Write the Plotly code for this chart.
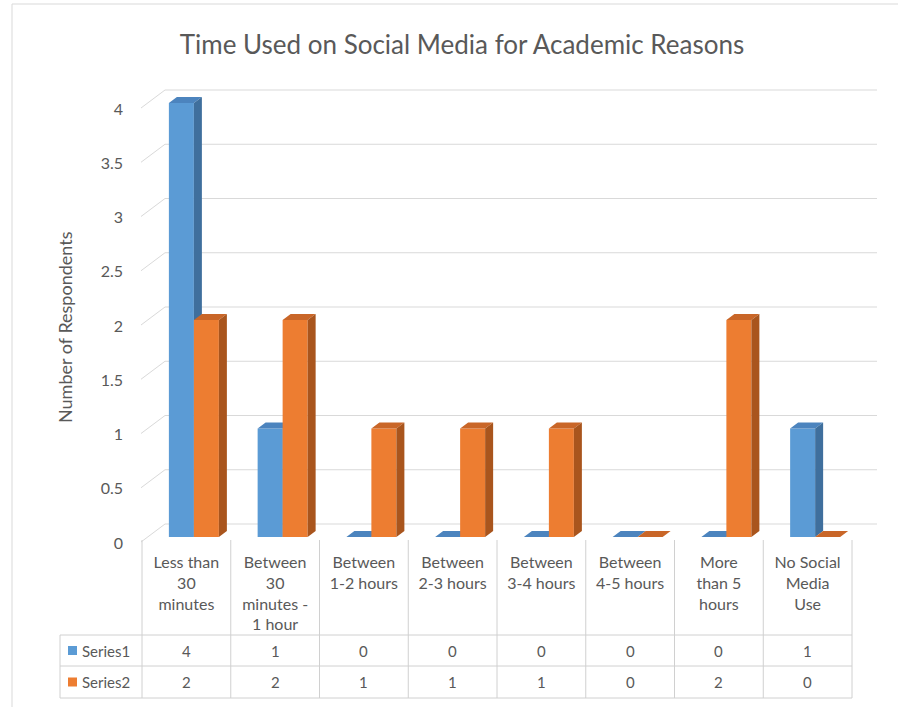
import plotly.graph_objects as go

# ---- data -------------------------------------------------------------
CATEGORIES = [
    "Less than 30 minutes",
    "Between 30 minutes - 1 hour",
    "Between 1-2 hours",
    "Between 2-3 hours",
    "Between 3-4 hours",
    "Between 4-5 hours",
    "More than 5 hours",
    "No Social Media Use",
]
TICK_LABELS = [
    "Less than<br>30<br>minutes",
    "Between<br>30<br>minutes -<br>1 hour",
    "Between<br>1-2 hours",
    "Between<br>2-3 hours",
    "Between<br>3-4 hours",
    "Between<br>4-5 hours",
    "More<br>than 5<br>hours",
    "No Social<br>Media<br>Use",
]
SERIES_NAMES = ["Series1", "Series2"]
SERIES1 = [4, 1, 0, 0, 0, 0, 0, 1]
SERIES2 = [2, 2, 1, 1, 1, 0, 2, 0]
Y_TICKS = [0, 0.5, 1, 1.5, 2, 2.5, 3, 3.5, 4]
Y_TICK_TEXT = ["0", "0.5", "1", "1.5", "2", "2.5", "3", "3.5", "4"]

# ---- layout geometry (pixels) ------------------------------------------
W, H = 898, 707
FONT = "Lato"
TEXT = "#595959"
GRID = "#d9d9d9"
TABLE_LINE = "#d0d0d0"

COL0, COL_W = 142, 88.75          # data-table columns
Y0_PX, PX_PER_UNIT = 537, 108.5   # front plane of the columns
PLOT_L, PLOT_R, PLOT_T, PLOT_B = 40, 890, 60, 705

BAR_W_PX, SHIFT_PX = 25, 7.5
DEPTH_X_PX, DEPTH_Y_PX = 8, 6


def xd(px):
    return (px - (COL0 + COL_W / 2)) / COL_W


def yd(py):
    return (Y0_PX - py) / PX_PER_UNIT


def px_x(px):
    return px / W


def px_y(py):
    return 1 - py / H


BAR_W = BAR_W_PX / COL_W
SHIFT = SHIFT_PX / COL_W
DX = DEPTH_X_PX / COL_W
DY = DEPTH_Y_PX / PX_PER_UNIT

FRONT = ["#5B9BD5", "#ED7D31"]
SIDE = ["#3F6F9D", "#A9551D"]
TOP = ["#4C84BE", "#C96628"]

positions = list(range(len(CATEGORIES)))
series = [SERIES1, SERIES2]
offsets = [SHIFT - BAR_W, SHIFT]

fig = go.Figure()

for k, (name, vals) in enumerate(zip(SERIES_NAMES, series)):
    fig.add_trace(go.Bar(
        x=positions, y=vals, name=name, width=BAR_W, offset=offsets[k],
        marker=dict(color=FRONT[k], line=dict(width=0)),
        zorder=2 * k, showlegend=False, hoverinfo="skip",
    ))
    # 3D top and side faces of each column
    for faces, color in (("top", TOP[k]), ("side", SIDE[k])):
        xs, ys = [], []
        for i, v in zip(positions, vals):
            x0 = i + offsets[k]
            x1 = x0 + BAR_W
            if faces == "top":
                xs += [x0, x0 + DX, x1 + DX, x1, x0, None]
                ys += [v, v + DY, v + DY, v, v, None]
            else:
                xs += [x1, x1, x1 + DX, x1 + DX, x1, None]
                ys += [0, v, v + DY, DY, 0, None]
        fig.add_trace(go.Scatter(
            x=xs, y=ys, mode="lines", fill="toself", fillcolor=color,
            line=dict(width=0, color=color), zorder=2 * k + 1,
            showlegend=False, hoverinfo="skip",
        ))

shapes = []

# back-wall gridlines with the slanted side-wall segment
for v in Y_TICKS:
    yf = Y0_PX - v * PX_PER_UNIT
    path = "M {},{} L {},{} L {},{}".format(
        xd(141), yd(yf + 5), xd(165), yd(yf - 13), xd(877), yd(yf - 13))
    shapes.append(dict(type="path", path=path, xref="x", yref="y",
                       line=dict(color=GRID, width=1), layer="below"))

# data table grid
n = len(CATEGORIES)
right_px = COL0 + n * COL_W
for k in range(n + 1):
    xpx = COL0 + k * COL_W
    shapes.append(dict(type="line", xref="paper", yref="paper",
                       x0=px_x(xpx), x1=px_x(xpx), y0=px_y(540), y1=px_y(698),
                       line=dict(color=TABLE_LINE, width=1)))
shapes.append(dict(type="line", xref="paper", yref="paper",
                   x0=px_x(60), x1=px_x(60), y0=px_y(635), y1=px_y(698),
                   line=dict(color=TABLE_LINE, width=1)))
for ypx in (635, 666, 698):
    shapes.append(dict(type="line", xref="paper", yref="paper",
                       x0=px_x(60), x1=px_x(right_px), y0=px_y(ypx), y1=px_y(ypx),
                       line=dict(color=TABLE_LINE, width=1)))

# chart border
shapes.append(dict(type="path", xref="paper", yref="paper",
                   path="M {},{} L {},{} L {},{}".format(
                       px_x(12), px_y(707), px_x(12), px_y(4), px_x(898), px_y(4)),
                   line=dict(color="#d9d9d9", width=1)))

annotations = []
row_y = [650.5, 682]
for k, (name, vals) in enumerate(zip(SERIES_NAMES, series)):
    yc = row_y[k]
    shapes.append(dict(type="rect", xref="paper", yref="paper",
                       x0=px_x(68), x1=px_x(77), y0=px_y(yc - 4.5), y1=px_y(yc + 4.5),
                       fillcolor=FRONT[k], line=dict(width=0)))
    annotations.append(dict(text=name, x=px_x(80), y=px_y(yc), xref="paper",
                            yref="paper", xanchor="left", yanchor="middle",
                            showarrow=False, font=dict(family=FONT, size=15, color=TEXT)))
    for i, v in zip(positions, vals):
        annotations.append(dict(text=str(v), x=i, y=px_y(yc), xref="x",
                                yref="paper", xanchor="center", yanchor="middle",
                                showarrow=False,
                                font=dict(family=FONT, size=15, color=TEXT)))

annotations.append(dict(text="Number of Respondents", textangle=-90,
                        x=px_x(65), y=px_y(327), xref="paper", yref="paper",
                        xanchor="center", yanchor="middle", showarrow=False,
                        font=dict(family=FONT, size=18, color=TEXT)))

fig.update_layout(
    width=W, height=H,
    margin=dict(l=0, r=0, t=0, b=0),
    paper_bgcolor="white", plot_bgcolor="white",
    barmode="overlay",
    title=dict(text="Time Used on Social Media for Academic Reasons",
               x=462 / W, y=1 - 45 / H, xref="container", yref="container",
               xanchor="center", yanchor="middle",
               font=dict(family=FONT, size=26, color=TEXT)),
    xaxis=dict(domain=[px_x(PLOT_L), px_x(PLOT_R)],
               range=[xd(PLOT_L), xd(PLOT_R)],
               anchor="free", position=px_y(551),
               tickmode="array", tickvals=positions, ticktext=TICK_LABELS,
               showgrid=False, zeroline=False, showline=False, ticks="",
               tickfont=dict(family=FONT, size=16, color=TEXT)),
    yaxis=dict(domain=[px_y(PLOT_B), px_y(PLOT_T)],
               range=[yd(PLOT_B), yd(PLOT_T)],
               anchor="free", position=px_x(123),
               tickmode="array", tickvals=Y_TICKS, ticktext=Y_TICK_TEXT,
               ticklabelshift=6,
               showgrid=False, zeroline=False, showline=False, ticks="",
               tickfont=dict(family=FONT, size=16, color=TEXT)),
    shapes=shapes,
    annotations=annotations,
    showlegend=False,
)

fig.write_html("out.html")
